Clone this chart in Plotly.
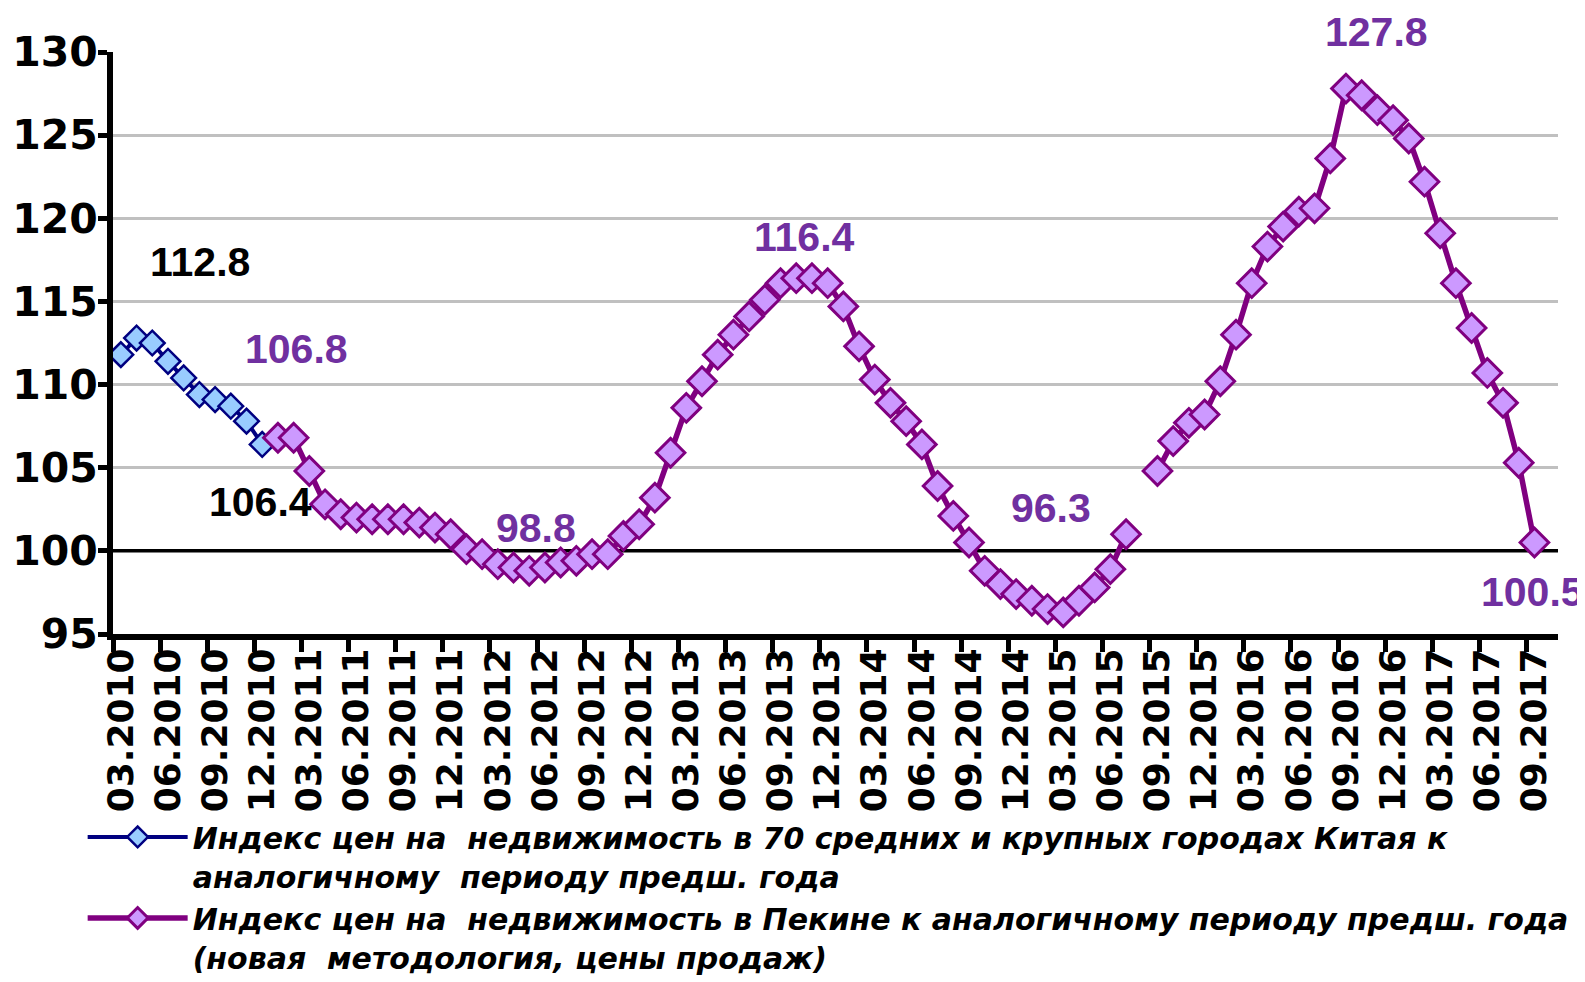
import pandas as pd
import plotly.graph_objects as go

# monthly categories 03.2010 .. 10.2017
months = list(pd.date_range("2010-03-01", "2017-10-01", freq="MS").strftime("%m.%Y"))

# 70 cities index, 03.2010 - 12.2010
china_months = months[:10]
china_70 = [111.8, 112.8, 112.5, 111.4, 110.4, 109.4, 109.1, 108.7, 107.8, 106.4]

# Beijing index (new methodology), 01.2011 - 09.2017, 08.2015 missing
beijing_months = months[10:91]
beijing = [
    106.8, 106.8, 104.8, 102.8, 102.2, 102.0, 101.9, 101.9, 101.9, 101.7, 101.4, 101.0,  # 2011
    100.1, 99.8, 99.2, 99.0, 98.8, 99.0, 99.3, 99.4, 99.8, 99.8, 100.9, 101.6,           # 2012
    103.2, 105.9, 108.6, 110.2, 111.8, 113.0, 114.1, 115.1, 116.1, 116.4, 116.4, 116.1,  # 2013
    114.7, 112.3, 110.3, 108.9, 107.8, 106.4, 103.9, 102.1, 100.5, 98.8, 98.0, 97.4,     # 2014
    97.0, 96.5, 96.3, 97.0, 97.8, 98.9, 101.0, None, 104.8, 106.6, 107.7, 108.2,         # 2015
    110.2, 113.0, 116.1, 118.3, 119.5, 120.4, 120.6, 123.6, 127.8, 127.4, 126.5, 125.9,  # 2016
    124.8, 122.2, 119.1, 116.1, 113.4, 110.7, 108.9, 105.3, 100.5,                       # 2017
]

tick_labels = months[0:91:3]
grid_vals = [105, 110, 115, 120, 125, 130]

name_china = ("Индекс цен на\u00a0 недвижимость в 70 средних и крупных городах Китая к<br>"
              "аналогичному\u00a0 периоду предш. года")
name_beijing = ("Индекс цен на\u00a0 недвижимость в Пекине к аналогичному периоду предш. года<br>"
                "(новая\u00a0 методология, цены продаж)")

pos = {m: i for i, m in enumerate(months)}
x_china = [pos[m] for m in china_months]
x_beijing = [pos[m] for m in beijing_months]

BASE = "Liberation Sans, Arial, sans-serif"
WIDE = "DejaVu Sans, Verdana, sans-serif"
PURPLE_TXT = "#7030A0"

fig = go.Figure()

fig.add_trace(go.Scatter(
    x=x_china, y=china_70, name=name_china, mode="lines+markers",
    line=dict(color="#000080", width=4),
    marker=dict(symbol="diamond", size=19, color="#99CCFF", line=dict(color="#000080", width=2.5)),
))
fig.add_trace(go.Scatter(
    x=x_beijing, y=beijing, name=name_beijing, mode="lines+markers",
    line=dict(color="#800080", width=5.5),
    marker=dict(symbol="diamond", size=22, color="#CC99FF", line=dict(color="#800080", width=3)),
))

# reference line at 100
fig.add_hline(y=100, line=dict(color="black", width=3.5), layer="below")

# value labels: (month, series, xshift, yshift, colour)
labels = [
    ("04.2010", "china", 63, 76, "black"),
    ("12.2010", "china", -2, -58, "black"),
    ("01.2011", "beijing", 19, 89, PURPLE_TXT),
    ("05.2012", "beijing", 7, 43, PURPLE_TXT),
    ("10.2013", "beijing", 8, 41, PURPLE_TXT),
    ("03.2015", "beijing", -12, 104, PURPLE_TXT),
    ("09.2016", "beijing", 31, 57, PURPLE_TXT),
    ("09.2017", "beijing", -2, -49, PURPLE_TXT),
]
series = {"china": (china_months, china_70), "beijing": (beijing_months, beijing)}
for m, s, dx, dy, col in labels:
    ms, vals = series[s]
    v = vals[ms.index(m)]
    fig.add_annotation(x=pos[m], y=v, text=f"{v:.1f}", showarrow=False,
                       xshift=dx, yshift=dy,
                       font=dict(family=BASE, size=41, color=col, weight="bold"))

fig.update_layout(
    width=1585, height=982,
    margin=dict(l=105, r=35, t=44, b=356, autoexpand=False),
    plot_bgcolor="white", paper_bgcolor="white",
    showlegend=True,
    legend=dict(
        x=-0.021, y=-0.304,
        xanchor="left", yanchor="top",
        font=dict(family=WIDE, size=30, color="black", weight="bold", style="italic"),
        itemwidth=100, valign="top",
        bgcolor="rgba(0,0,0,0)",
    ),
)

fig.update_xaxes(
    range=[-0.5, 91.5],
    tickmode="array", tickvals=[pos[m] for m in tick_labels], ticktext=tick_labels,
    tickangle=-90, ticks="", showgrid=False, zeroline=False,
    showline=True, linecolor="black", linewidth=6,
    ticklabelstandoff=-6,
    tickfont=dict(family=WIDE, size=36, color="black", weight="bold"),
    minor=dict(tickmode="array", tickvals=[pos[m] - 0.5 for m in tick_labels],
               ticks="outside", ticklen=12, tickwidth=5, tickcolor="black", showgrid=False),
)
fig.update_yaxes(
    range=[95, 130], dtick=5, tick0=95,
    showgrid=False, zeroline=False,
    showline=True, linecolor="black", linewidth=6,
    ticks="outside", ticklen=9, tickwidth=5, tickcolor="black",
    ticklabelstandoff=-8,
    tickfont=dict(family=WIDE, size=41, color="black", weight="bold"),
    minor=dict(tickmode="array", tickvals=grid_vals, ticks="",
               showgrid=True, gridcolor="#C0C0C0", gridwidth=3),
)

fig.write_html("out.html")
